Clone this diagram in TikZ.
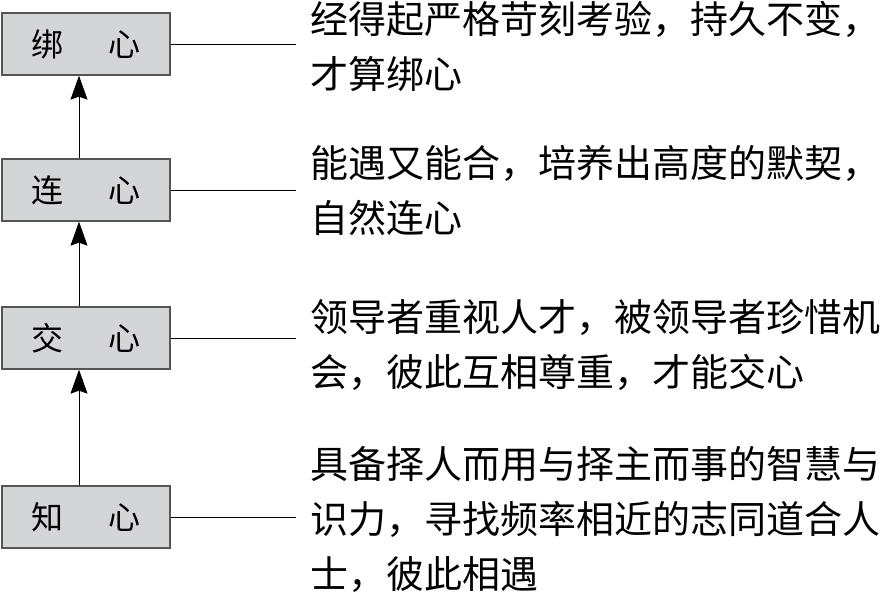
\documentclass[tikz,border=0pt]{standalone}
\usepackage{fontspec}
\newfontfamily\cjk{Noto Sans CJK SC}
\usetikzlibrary{arrows.meta,positioning}
\usepackage{xcolor}
\definecolor{boxgray}{RGB}{212,213,215}
\definecolor{edgegray}{RGB}{85,85,85}
\tikzset{
stage/.style={draw=edgegray,fill=boxgray,line width=1.3pt,minimum width=168pt,minimum height=62pt,inner sep=0pt,font=\cjk\fontsize{32}{32}\selectfont},
note/.style={anchor=base west,align=left,inner sep=0pt,font=\cjk\fontsize{38}{55}\selectfont},
arrow/.style={-{Stealth[length=24pt,width=17pt,inset=3pt]},line width=0.9pt},
link/.style={line width=0.9pt}
}

\begin{document}
\begin{tikzpicture}[x=1pt,y=-1pt]
\useasboundingbox (0,0) rectangle (895,595);
\node[stage] (bind) at (86,44) {绑\hspace{46pt}心};
\node[stage] (link) at (86,190) {连\hspace{46pt}心};
\node[stage] (join) at (86,338) {交\hspace{46pt}心};
\node[stage] (know) at (86,517) {知\hspace{46pt}心};
\draw[arrow] ([xshift=-7pt]know.north) -- ([xshift=-7pt]join.south);
\draw[arrow] ([xshift=-7pt]join.north) -- ([xshift=-7pt]link.south);
\draw[arrow] ([xshift=-7pt]link.north) -- ([xshift=-7pt]bind.south);
% last line baseline of each note
\node[note] (t1) at (310,88) {经得起严格苛刻考验，持久不变，\\才算绑心};
\node[note] (t2) at (310,232) {能遇又能合，培养出高度的默契，\\自然连心};
\node[note] (t3) at (310,386) {领导者重视人才，被领导者珍惜机\\会，彼此互相尊重，才能交心};
\node[note] (t4) at (310,588) {具备择人而用与择主而事的智慧与\\识力，寻找频率相近的志同道合人\\士，彼此相遇};
\foreach \b/\c in {bind/c1,link/c2,join/c3,know/c4}{
  \coordinate (\c) at (\b.east -| 296,0);
  \draw[link] (\b.east) -- (\c);
}
\end{tikzpicture}
\end{document}
